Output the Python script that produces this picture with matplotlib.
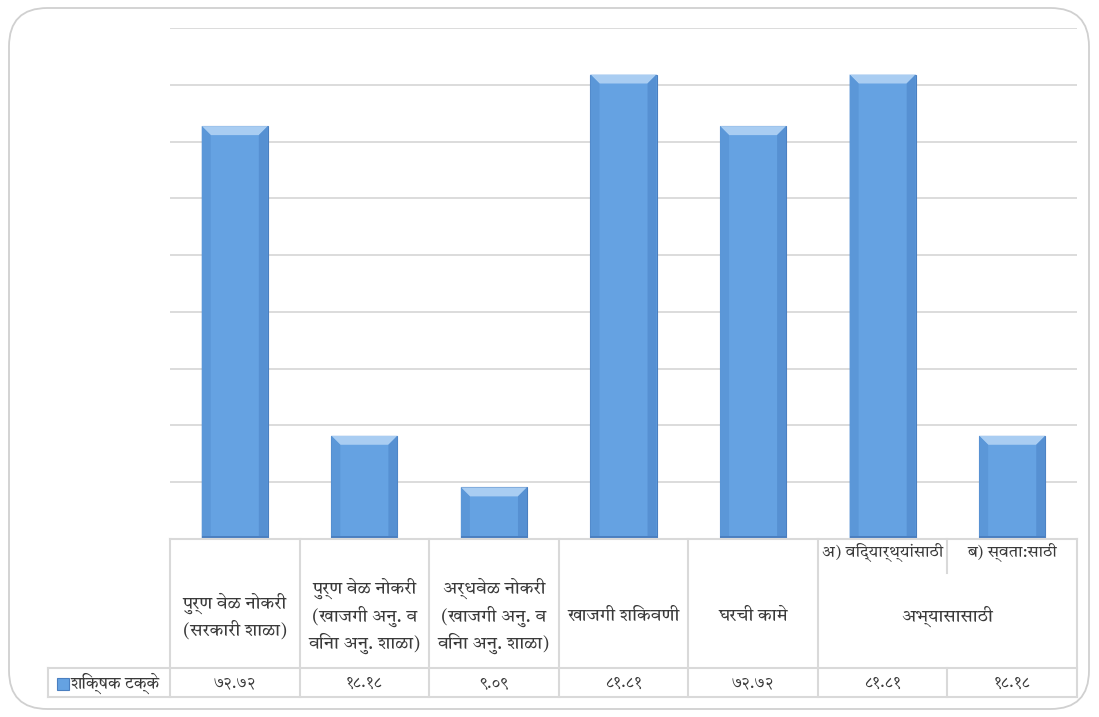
import os
import matplotlib
matplotlib.use("Agg")
import matplotlib.pyplot as plt
from matplotlib import font_manager
from matplotlib.patches import FancyBboxPatch, Polygon

# data
categories = [
    "पुर्ण वेळ नोकरी\n(सरकारी शाळा)",
    "पुर्ण वेळ नोकरी\n(खाजगी अनु. व\nविना अनु. शाळा)",
    "अर्धवेळ नोकरी\n(खाजगी अनु. व\nविना अनु. शाळा)",
    "खाजगी शिकवणी",
    "घरची कामे",
    "",
    "",
]
sub_labels = ["अ) विद्यार्थ्यांसाठी", "ब) स्वता:साठी"]
group_label = "अभ्यासासाठी"
values = [72.72, 18.18, 9.09, 81.81, 72.72, 81.81, 18.18]
value_labels = ["७२.७२", "१८.१८", "९.०९", "८१.८१", "७२.७२", "८१.८१", "१८.१८"]
series_name = "शिक्षक टक्के"

# pick an installed Devanagari font
gf = "/usr/share/fonts/truetype/google-fonts/"
candidates = [gf + "TiroDevanagariMarathi-Regular.ttf",
              gf + "Lohit-Devanagari.ttf",
              gf + "Sarala-Regular.ttf",
              "/usr/share/fonts/truetype/freefont/FreeSans.ttf"]
families = []
for p in candidates:
    if os.path.exists(p):
        font_manager.fontManager.addfont(p)
        families.append(font_manager.FontProperties(fname=p).get_name())
        break
plt.rcParams['font.family'] = families + ['DejaVu Sans']

W, H = 1099, 717
fig = plt.figure(figsize=(W / 100, H / 100), dpi=100)

# outer rounded frame
frame = FancyBboxPatch((9 / W, 8 / H), 1080 / W, 701 / H,
                       boxstyle="round,pad=0,rounding_size=0.035",
                       transform=fig.transFigure, fc="none",
                       ec="#d0d0d0", lw=1.3, mutation_aspect=W / H, zorder=-5)
fig.patches.append(frame)

left, right, top, bottom = 170, 1077, 28, 539
ax = fig.add_axes([left / W, 1 - bottom / H, (right - left) / W, (bottom - top) / H])
ax.patch.set_alpha(0)
ax.set_xlim(-0.5, len(values) - 0.5)
ax.set_ylim(0, 90)
ax.set_yticks(range(10, 91, 10))
ax.yaxis.grid(True, color="#d9d9d9", lw=1.3)
ax.set_axisbelow(True)
ax.tick_params(left=False, bottom=False, labelleft=False, labelbottom=False)
for s in ax.spines.values():
    s.set_visible(False)

bw = 0.51
bars = ax.bar(range(len(values)), values, width=bw, color="#65a2e2",
              edgecolor="#4a7fc0", lw=0.8, zorder=2)

# simple bevel on each bar
px_per_unit = (bottom - top) / 90
cat_px = (right - left) / len(values)
for b in bars:
    x0, y0 = b.get_x(), b.get_y()
    x1, y1 = x0 + b.get_width(), y0 + b.get_height()
    dx = 9 / cat_px
    dy = 9 / px_per_unit
    ax.add_patch(Polygon([(x0, y1), (x1, y1), (x1 - dx, y1 - dy), (x0 + dx, y1 - dy)],
                         fc="#a9cdf2", ec="none", zorder=3))
    ax.add_patch(Polygon([(x0, y1), (x0 + dx, y1 - dy), (x0 + dx, y0), (x0, y0)],
                         fc="#5b97d8", ec="none", zorder=3))
    ax.add_patch(Polygon([(x1, y1), (x1 - dx, y1 - dy), (x1 - dx, y0), (x1, y0)],
                         fc="#5690d2", ec="none", zorder=3))
    ax.add_patch(Polygon([(x0, y0), (x1, y0), (x1, y0 + 0.6), (x0, y0 + 0.6)],
                         fc="#4a7fc0", ec="none", zorder=3))


# data table drawn in figure pixel coordinates
def fx(p):
    return p / W


def fy(p):
    return 1 - p / H


grid_c = "#d9d9d9"
row1, row2 = 668, 697
bounds = [left + i * cat_px for i in range(len(values) + 1)]


def hline(y, xa, xb):
    fig.add_artist(plt.Line2D([fx(xa), fx(xb)], [fy(y), fy(y)], color=grid_c, lw=1.5))


def vline(x, ya, yb):
    fig.add_artist(plt.Line2D([fx(x), fx(x)], [fy(ya), fy(yb)], color=grid_c, lw=1.5))


hline(bottom, left, right)
hline(row1, 48, right)
hline(row2, 48, right)
vline(48, row1, row2)
for i, xb in enumerate(bounds):
    if i == 6:
        vline(xb, bottom, 573)
        vline(xb, row1, row2)
    else:
        vline(xb, bottom, row2)

tc = "#3a3a3a"
fs = 13
for i, lab in enumerate(categories):
    xc = (bounds[i] + bounds[i + 1]) / 2
    if lab:
        fig.text(fx(xc), fy(616), lab, ha="center", va="center", fontsize=fs,
                 color=tc, linespacing=1.4)
    fig.text(fx(xc), fy(683), value_labels[i], ha="center", va="center",
             fontsize=11.5, color=tc)

for j, lab in enumerate(sub_labels):
    xc = (bounds[5 + j] + bounds[6 + j]) / 2
    fig.text(fx(xc), fy(553), lab, ha="center", va="center", fontsize=11.8, color=tc)
fig.text(fx(bounds[6]), fy(616), group_label, ha="center", va="center",
         fontsize=fs, color=tc)

# legend key in table
fig.patches.append(plt.Rectangle((fx(57), fy(690)), 12 / W, 12 / H,
                                 transform=fig.transFigure, fc="#65a2e2",
                                 ec="#4a7fc0", lw=0.8))
fig.text(fx(71), fy(683), series_name, ha="left", va="center", fontsize=12, color=tc)

fig.savefig("out.png", dpi=100)
